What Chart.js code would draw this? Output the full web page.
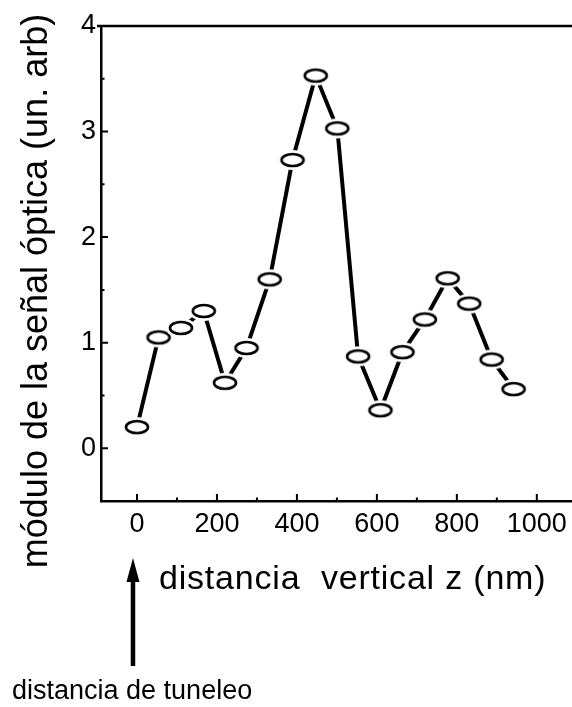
<!DOCTYPE html>
<html>
<head>
<meta charset="utf-8">
<script src="https://cdn.jsdelivr.net/npm/chart.js@4/dist/chart.umd.min.js"></script>
<style>
  body { margin: 0; background: #fff; }
  #wrap { width: 572px; height: 707px; position: relative; }
</style>
</head>
<body>
<div id="wrap"><canvas id="myChart"></canvas></div>
<script>
// data
var zVals = [0, 54, 110, 167, 220, 274, 332, 389, 447, 501, 553, 609, 664, 720, 777, 831, 887, 942];
var signal = [0.20, 1.05, 1.14, 1.30, 0.62, 0.95, 1.60, 2.73, 3.53, 3.03, 0.87, 0.36, 0.91, 1.22, 1.61, 1.37, 0.84, 0.56];
var xTicks = [0, 200, 400, 600, 800, 1000];
var xMinor = [100, 300, 500, 700, 900];
var yTicks = [0, 1, 2, 3, 4];
var yMinor = [0.5, 1.5, 2.5, 3.5];
var xTitle = "distancia  vertical z (nm)";
var yTitle = "módulo de la señal óptica (un. arb)";
var note = "distancia de tuneleo";

var fam = "'Liberation Sans', Arial, Helvetica, sans-serif";
Chart.defaults.font.family = fam;
Chart.defaults.color = "#000";

// open ellipse marker with a white halo so the line stops short of it
function makeMarker() {
  var c = document.createElement("canvas");
  c.width = 36; c.height = 24;
  var g = c.getContext("2d");
  g.fillStyle = "#fff";
  g.beginPath();
  g.ellipse(18, 12, 15, 10, 0, 0, Math.PI * 2);
  g.fill();
  g.beginPath();
  g.ellipse(18, 12, 11, 6, 0, 0, Math.PI * 2);
  g.lineWidth = 2.6;
  g.strokeStyle = "#000";
  g.stroke();
  return c;
}
var marker = makeMarker();

var pts = [];
for (var i = 0; i < zVals.length; i++) {
  pts.push({ x: zVals[i], y: signal[i] });
}

// inward ticks, top frame line, titles and the arrow note
var extras = {
  id: "extras",
  afterDraw: function (chart) {
    var ctx = chart.ctx;
    var a = chart.chartArea;
    var xs = chart.scales.x, ys = chart.scales.y;
    ctx.save();
    ctx.strokeStyle = "#000";
    ctx.lineWidth = 2.5;
    ctx.beginPath();
    ctx.moveTo(a.left - 4, a.top);
    ctx.lineTo(chart.width, a.top);
    ctx.stroke();

    ctx.lineWidth = 2;
    ctx.beginPath();
    yTicks.forEach(function (v) {
      var p = ys.getPixelForValue(v);
      ctx.moveTo(a.left, p); ctx.lineTo(a.left + 7, p);
    });
    yMinor.forEach(function (v) {
      var p = ys.getPixelForValue(v);
      ctx.moveTo(a.left, p); ctx.lineTo(a.left + 3.5, p);
    });
    xTicks.forEach(function (v) {
      var p = xs.getPixelForValue(v);
      ctx.moveTo(p, a.bottom); ctx.lineTo(p, a.bottom - 7);
    });
    xMinor.forEach(function (v) {
      var p = xs.getPixelForValue(v);
      ctx.moveTo(p, a.bottom); ctx.lineTo(p, a.bottom - 3.5);
    });
    ctx.stroke();

    ctx.fillStyle = "#000";
    ctx.textBaseline = "alphabetic";

    // x title
    ctx.font = "34px " + fam;
    ctx.letterSpacing = "0.8px";
    ctx.textAlign = "left";
    ctx.fillText(xTitle, 159, 589);
    ctx.letterSpacing = "0px";

    // y title
    ctx.save();
    ctx.translate(47, 291);
    ctx.rotate(-Math.PI / 2);
    ctx.font = "36px " + fam;
    ctx.textAlign = "center";
    ctx.fillText(yTitle, 0, 0);
    ctx.restore();

    // arrow pointing at z = 0
    var ax = xs.getPixelForValue(0) - 4;
    ctx.lineWidth = 4.5;
    ctx.beginPath();
    ctx.moveTo(ax, 666);
    ctx.lineTo(ax, 575);
    ctx.stroke();
    ctx.beginPath();
    ctx.moveTo(ax, 558);
    ctx.lineTo(ax - 6.5, 582);
    ctx.lineTo(ax + 6.5, 582);
    ctx.closePath();
    ctx.fill();

    ctx.font = "27px " + fam;
    ctx.textAlign = "left";
    ctx.fillText(note, 12, 699);
    ctx.restore();
  }
};

const myChart = new Chart("myChart", {
  type: "line",
  data: {
    datasets: [{
      data: pts,
      borderColor: "#000",
      borderWidth: 4,
      tension: 0,
      pointStyle: marker,
      pointRadius: 12,
      pointHoverRadius: 12
    }]
  },
  options: {
    responsive: true,
    maintainAspectRatio: false,
    animation: false,
    events: [],
    layout: { autoPadding: false, padding: { top: 26, right: 0, left: 0, bottom: 0 } },
    plugins: {
      legend: { display: false },
      tooltip: { enabled: false }
    },
    scales: {
      x: {
        type: "linear",
        min: -90,
        max: 1088,
        grid: { display: false, drawTicks: false },
        border: { display: true, color: "#000", width: 2.5 },
        ticks: {
          font: { size: 27 }, color: "#000", padding: 7, maxRotation: 0,
          callback: function (v) { return String(v); }
        },
        afterBuildTicks: function (s) { s.ticks = xTicks.map(function (v) { return { value: v }; }); },
        afterFit: function (s) { s.height = 206; s.paddingLeft = 0; s.paddingRight = 0; }
      },
      y: {
        min: -0.5,
        max: 4,
        grid: { display: false, drawTicks: false },
        border: { display: true, color: "#000", width: 2.5 },
        ticks: {
          font: { size: 27 }, color: "#000", padding: 5,
          callback: function (v) { return String(v); }
        },
        afterBuildTicks: function (s) { s.ticks = yTicks.map(function (v) { return { value: v }; }); },
        afterFit: function (s) { s.width = 101; }
      }
    }
  },
  plugins: [extras]
});
</script>
</body>
</html>
